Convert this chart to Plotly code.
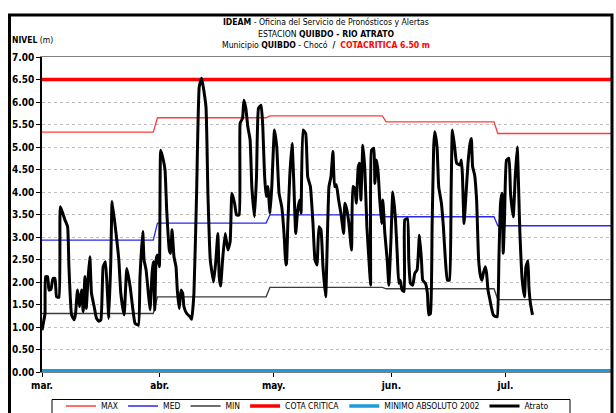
import pandas as pd
import plotly.graph_objects as go

# ---------------- data ----------------
base = pd.Timestamp("2011-03-01")
mes_ticks = ["2011-03-01", "2011-04-01", "2011-05-01", "2011-06-01", "2011-07-01"]
mes_labels = ["mar.", "abr.", "may.", "jun.", "jul."]

# breakpoints (days since 1 March) of the monthly reference levels
ref_dias = [0, 29.3, 30.4, 59.0, 60.0, 89.6, 90.6, 119.0, 120.0, 152.0]
max_mes = [5.33, 5.65, 5.69, 5.56, 5.30]
med_mes = [2.93, 3.31, 3.49, 3.45, 3.25]
min_mes = [1.30, 1.67, 1.88, 1.85, 1.61]
cota_critica = 6.50
minimo_abs_2002 = 0.03

atrato_dia = [0.0, 0.34, 0.79, 0.95, 1.47, 1.84, 2.36, 2.89, 3.41, 3.84, 4.47, 4.81, 5.33, 6.04, 6.74,
              7.09, 7.78, 8.48, 8.83, 9.35, 9.88, 10.4, 10.85, 11.3, 11.64, 12.16, 12.6, 13.03, 13.74,
              14.35, 14.97, 15.5, 16.1, 16.7, 17.23, 17.6, 18.12, 18.47, 19.6, 20.23, 20.75, 21.62,
              22.33, 23.2, 23.9, 24.5, 25.37, 25.8, 26.53, 26.87, 27.4, 28.0, 28.45, 28.97, 29.3, 29.7,
              30.02, 30.37, 30.9, 31.26, 31.94, 32.39, 32.83, 33.52, 33.88, 34.23, 34.75, 35.28, 35.62,
              36.14, 36.59, 37.04, 37.38, 38.09, 38.95, 39.4, 40.0, 40.7, 41.4, 42.03, 43.16, 43.68,
              44.3, 45.18, 45.78, 46.3, 46.65, 47.02, 47.54, 48.23, 48.94, 49.54, 49.99, 50.7, 51.22,
              51.9, 52.17, 52.8, 53.14, 53.66, 54.19, 54.79, 55.24, 55.95, 56.47, 57.0, 57.68, 58.13,
              58.57, 59.0, 59.44, 60.05, 60.5, 61.2, 61.8, 62.41, 63.12, 63.83, 64.17, 64.36, 64.7,
              65.22, 65.83, 66.27, 66.8, 67.32, 67.85, 68.19, 68.72, 69.42, 69.95, 70.66, 71.34, 71.87,
              72.39, 72.92, 73.44, 73.97, 74.68, 75.2, 75.55, 76.07, 76.6, 77.04, 77.49, 78.09, 78.7,
              79.41, 79.75, 80.27, 80.8, 81.5, 81.85, 82.37, 82.74, 83.27, 83.6, 83.95, 84.48, 85.0,
              85.53, 86.24, 86.5, 86.76, 87.37, 87.63, 88.08, 88.52, 88.86, 89.39, 89.73, 90.26, 90.88,
              91.31, 91.83, 92.36, 93.07, 93.51, 93.93, 94.3, 94.82, 95.35, 95.51, 96.22, 96.56, 97.0,
              97.61, 98.13, 98.76, 99.37, 99.9, 100.24, 100.95, 101.47, 101.81, 102.26, 102.7, 103.12,
              103.39, 104.0, 104.44, 105.15, 105.67, 106.2, 106.72, 107.25, 107.7, 108.04, 108.64,
              109.17, 110.06, 110.4, 110.67, 111.11, 111.53, 112.16, 112.69, 113.03, 113.37, 113.9,
              114.42, 114.95, 115.47, 115.84, 116.18, 116.7, 117.05, 117.42, 117.94, 118.28, 118.81,
              119.52, 119.86, 120.3, 120.72, 121.09, 121.43, 121.78, 122.3, 122.93, 123.35, 124.06,
              124.59, 125.11, 125.82, 126.43, 127.03, 127.4, 127.92, 128.18, 128.6, 129.13]
atrato_nivel = [0.93, 1.08, 1.30, 2.12, 2.12, 1.82, 1.84, 2.08, 2.08, 1.67, 1.66, 3.67, 3.56, 3.38, 3.23,
                2.34, 1.27, 1.16, 1.30, 1.82, 1.45, 1.82, 1.34, 2.12, 1.41, 2.12, 2.56, 1.75, 1.45,
                1.19, 1.13, 1.16, 2.34, 2.45, 1.75, 1.19, 2.49, 3.79, 3.00, 2.49, 1.75, 1.27,
                2.30, 1.90, 1.41, 1.08, 1.04, 2.12, 3.12, 2.49, 2.27, 1.75, 1.38, 2.19, 2.45, 1.38,
                2.49, 2.60, 2.34, 4.93, 4.71, 4.49, 3.60, 2.71, 2.64, 3.16, 2.56, 2.34, 1.82,
                1.41, 1.82, 1.75, 1.45, 1.30, 1.23, 1.17, 1.75, 3.97, 6.34, 6.53, 5.90, 3.97,
                2.49, 2.00, 2.49, 3.08, 2.12, 1.91, 2.49, 3.08, 2.71, 2.90, 3.97, 3.75, 3.49,
                3.49, 5.53, 5.64, 6.04, 5.86, 5.45, 5.16, 4.12, 3.45, 4.34, 5.86, 5.93, 5.45,
                4.41, 3.90, 4.12, 3.53, 4.12, 5.38, 5.00, 3.97, 3.67, 2.93, 2.38, 2.41, 3.23,
                4.34, 5.08, 4.26, 3.08, 3.60, 3.82, 3.53, 5.38, 5.30, 4.34, 4.12, 3.30, 2.49,
                2.38, 3.23, 3.16, 2.34, 1.67, 3.23, 4.12, 4.34, 4.90, 4.12, 4.16, 3.82, 3.53,
                3.08, 3.75, 3.60, 3.30, 2.71, 4.12, 4.08, 3.75, 4.56, 4.64, 3.82, 5.04, 4.49,
                3.23, 2.27, 1.93, 4.93, 4.97, 4.19, 4.71, 4.41, 3.90, 3.30, 3.82, 3.08, 2.49,
                1.93, 2.86, 4.00, 3.38, 2.64, 1.97, 2.04, 1.82, 1.79, 3.38, 3.41, 2.49, 1.97,
                1.93, 2.19, 2.27, 3.04, 2.49, 2.04, 1.97, 1.75, 1.27, 1.30, 3.23, 5.00,
                5.34, 5.00, 4.12, 3.75, 3.23, 2.49, 2.04, 2.04, 3.97, 5.38, 5.00,
                4.64, 4.60, 4.71, 4.41, 3.30, 3.82, 4.64, 5.08, 5.19, 4.56, 4.38,
                3.82, 2.49, 2.12, 2.04, 2.19, 2.34, 2.19, 1.82, 1.60, 1.45, 1.27,
                1.23, 1.23, 2.56, 3.75, 3.97, 2.64, 3.45, 4.71, 4.75, 3.97, 3.45,
                4.34, 5.00, 3.08, 2.04, 1.67, 2.34, 2.47, 1.90, 1.52, 1.27]

y_ticks = [i * 0.5 for i in range(15)]

# ---------------- helpers ----------------
def fechas(dias):
    return [base + pd.Timedelta(days=d) for d in dias]

def escalon(v):
    out = []
    for val in v:
        out += [val, val]
    return out

FONT = "Liberation Sans Narrow, Arial Narrow, DejaVu Sans Condensed, Liberation Sans, Arial, sans-serif"

ref_x = fechas(ref_dias)
x_end = base + pd.Timedelta(days=149.8)

fig = go.Figure()
fig.add_trace(go.Scatter(x=ref_x, y=escalon(max_mes), mode="lines", name="MAX",
                         line=dict(color="#FF3B3B", width=1.3)))
fig.add_trace(go.Scatter(x=ref_x, y=escalon(med_mes), mode="lines", name="MED",
                         line=dict(color="#2828F0", width=1.3)))
fig.add_trace(go.Scatter(x=ref_x, y=escalon(min_mes), mode="lines", name="MIN",
                         line=dict(color="#3C3C3C", width=1.3)))
fig.add_trace(go.Scatter(x=[ref_x[0], ref_x[-1]], y=[cota_critica, cota_critica], mode="lines",
                         name="COTA CRITICA", line=dict(color="#FF0000", width=3.5)))
fig.add_trace(go.Scatter(x=[ref_x[0], ref_x[-1]], y=[minimo_abs_2002, minimo_abs_2002], mode="lines",
                         name="MINIMO ABSOLUTO 2002", line=dict(color="#1E9BD7", width=3.5)))
fig.add_trace(go.Scatter(x=fechas(atrato_dia), y=atrato_nivel, mode="lines", name="Atrato",
                         line=dict(color="#000000", width=3, shape="spline", smoothing=0.4)))

L, R, T, B = 42, 5, 57, 41
W, H = 616, 413
pw, ph = W - L - R, H - T - B

def px(xp):
    return (xp - L) / pw

def py(yp):
    return (H - B - yp) / ph

fig.update_layout(
    width=W, height=H,
    margin=dict(l=L, r=R, t=T, b=B, autoexpand=False),
    paper_bgcolor="white", plot_bgcolor="white",
    font=dict(family=FONT, size=10, color="#000000"),
    showlegend=True,
    legend=dict(orientation="h", x=px(61), xanchor="left", y=py(391.5), yanchor="top",
                bgcolor="rgba(0,0,0,0)", borderwidth=0,
                font=dict(family=FONT, size=8.5), tracegroupgap=0, itemwidth=30),
    xaxis=dict(type="date", range=[base, x_end], tickvals=mes_ticks, ticktext=mes_labels,
               showgrid=False, ticks="outside", ticklen=4, tickcolor="#000000",
               tickfont=dict(family=FONT, size=10, color="#000000", weight="bold"),
               showline=True, linecolor="#808080", linewidth=1, mirror=True, zeroline=False),
    yaxis=dict(range=[0, 7], tickvals=y_ticks, tickformat=".2f",
               showgrid=True, gridcolor="#BEBEBE", griddash="dot", gridwidth=1,
               ticks="outside", ticklen=4, tickcolor="#000000",
               tickfont=dict(family=FONT, size=10, color="#000000", weight="bold"),
               showline=True, linecolor="#000000", linewidth=1.5, zeroline=False),
)

# outer chart frame
fig.add_shape(type="rect", xref="paper", yref="paper",
              x0=px(9.5), x1=px(612), y0=py(440), y1=py(15),
              line=dict(color="#000000", width=3), layer="above")
# legend frame
fig.add_shape(type="rect", xref="paper", yref="paper",
              x0=px(52), x1=px(570), y0=py(430), y1=py(399.5),
              line=dict(color="#000000", width=1), layer="above")

cx = px(326)
fig.add_annotation(xref="paper", yref="paper", x=cx, y=py(22), showarrow=False,
                   text="<b>IDEAM</b> - Oficina del Servicio de Pronósticos y Alertas",
                   font=dict(family=FONT, size=8.6), xanchor="center", yanchor="middle")
fig.add_annotation(xref="paper", yref="paper", x=cx, y=py(33.5), showarrow=False,
                   text="ESTACION <b>QUIBDO - RIO ATRATO</b>",
                   font=dict(family=FONT, size=8.6), xanchor="center", yanchor="middle")
fig.add_annotation(xref="paper", yref="paper", x=cx, y=py(45), showarrow=False,
                   text="Municipio <b>QUIBDO</b> - Chocó  <b>/</b>  <b><span style='color:#FF0000'>COTACRITICA 6.50 m</span></b>",
                   font=dict(family=FONT, size=8.6), xanchor="center", yanchor="middle")
fig.add_annotation(xref="paper", yref="paper", x=px(10), y=py(40), showarrow=False,
                   text="<b>NIVEL</b> (m)", font=dict(family=FONT, size=8.5),
                   xanchor="left", yanchor="middle")

fig.write_html("out.html", config={"displayModeBar": False},
               post_script="document.body.style.margin='0';document.body.style.overflow='hidden';")
